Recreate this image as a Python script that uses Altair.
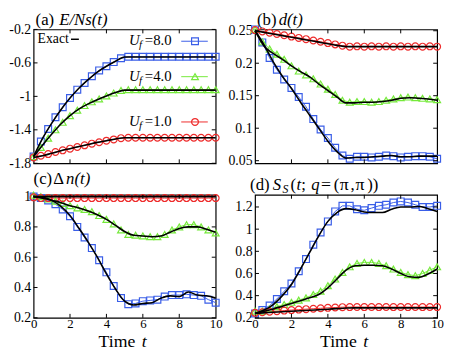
import altair as alt
import pandas as pd

FONT = "Liberation Serif"
SERIES = ["8.0", "4.0", "1.0"]
COLORS = ["#3a5ee8", "#75ea3a", "#ee2b2b"]
SHAPES = ["square", "triangle-up", "circle"]

T_MARK = [0.0, 0.4, 0.8, 1.2, 1.6, 2.0, 2.4, 2.8, 3.2, 3.6, 4.0, 4.4, 4.8,
          5.2, 5.6, 6.0, 6.4, 6.8, 7.2, 7.6, 8.0, 8.4, 8.8, 9.2, 9.6, 10.0]
T_EX = [0.0, 0.5, 1.0, 1.5, 2.0, 2.5, 3.0, 3.5, 4.0, 4.5, 5.0,
        5.5, 6.0, 6.5, 7.0, 7.5, 8.0, 8.5, 9.0, 9.5, 10.0]

# (a) E/Ns(t)
A_U8 = [-1.72, -1.54, -1.39, -1.25, -1.13, -1.02, -0.92, -0.84, -0.76, -0.69, -0.64, -0.59, -0.545,
        -0.527, -0.527, -0.527, -0.527, -0.527, -0.527, -0.527, -0.527, -0.527, -0.527, -0.527, -0.527, -0.527]
A_U4 = [-1.72, -1.61, -1.50, -1.40, -1.31, -1.23, -1.165, -1.11, -1.065, -1.03, -0.995, -0.96, -0.93,
        -0.92, -0.92, -0.92, -0.92, -0.92, -0.92, -0.92, -0.92, -0.92, -0.92, -0.92, -0.92, -0.92]
A_U1 = [-1.73, -1.71, -1.69, -1.665, -1.645, -1.625, -1.605, -1.585, -1.565, -1.548, -1.53, -1.515, -1.50,
        -1.495, -1.495, -1.495, -1.495, -1.495, -1.495, -1.495, -1.495, -1.495, -1.495, -1.495, -1.495, -1.495]
A_E8 = [-1.72, -1.50, -1.32, -1.16, -1.02, -0.90, -0.80, -0.71, -0.64, -0.58, -0.53,
        -0.53, -0.53, -0.53, -0.53, -0.53, -0.53, -0.53, -0.53, -0.53, -0.53]
A_E4 = [-1.72, -1.58, -1.45, -1.33, -1.23, -1.15, -1.09, -1.04, -0.995, -0.955, -0.925,
        -0.925, -0.925, -0.925, -0.925, -0.925, -0.925, -0.925, -0.925, -0.925, -0.925]
A_E1 = [-1.73, -1.71, -1.68, -1.65, -1.625, -1.60, -1.575, -1.55, -1.53, -1.51, -1.495,
        -1.495, -1.495, -1.495, -1.495, -1.495, -1.495, -1.495, -1.495, -1.495, -1.495]

# (b) d(t)
B_U8 = [0.252, 0.232, 0.208, 0.19, 0.175, 0.162, 0.148, 0.133, 0.114, 0.098, 0.085, 0.07, 0.058,
        0.053, 0.056, 0.056, 0.055, 0.056, 0.058, 0.057, 0.055, 0.056, 0.057, 0.057, 0.056, 0.053]
B_U4 = [0.252, 0.233, 0.222, 0.214, 0.206, 0.196, 0.188, 0.182, 0.176, 0.168, 0.160, 0.152, 0.143,
        0.140, 0.141, 0.141, 0.140, 0.141, 0.143, 0.145, 0.147, 0.148, 0.147, 0.146, 0.145, 0.144]
B_U1 = [0.251, 0.249, 0.247, 0.245, 0.243, 0.241, 0.239, 0.237, 0.235, 0.233, 0.231, 0.229, 0.227,
        0.2255, 0.226, 0.2255, 0.226, 0.2255, 0.226, 0.2255, 0.226, 0.2255, 0.226, 0.2255, 0.226, 0.2255]
B_E8 = [0.25, 0.228, 0.202, 0.18, 0.161, 0.14, 0.12, 0.1, 0.08, 0.064, 0.054,
        0.055, 0.055, 0.056, 0.057, 0.058, 0.056, 0.056, 0.057, 0.057, 0.057]
B_E4 = [0.25, 0.226, 0.215, 0.206, 0.196, 0.187, 0.179, 0.168, 0.158, 0.148, 0.139,
        0.139, 0.14, 0.14, 0.141, 0.143, 0.146, 0.147, 0.146, 0.145, 0.143]
B_E1 = [0.25, 0.2475, 0.245, 0.2425, 0.24, 0.2375, 0.235, 0.2325, 0.23, 0.2275, 0.2255,
        0.2255, 0.2255, 0.2255, 0.2255, 0.2255, 0.2255, 0.2255, 0.2255, 0.2255, 0.2255]

# (c) Delta n(t)
C_U8 = [1.0, 0.99, 0.975, 0.95, 0.915, 0.87, 0.8, 0.73, 0.66, 0.58, 0.5, 0.41, 0.33,
        0.29, 0.295, 0.31, 0.315, 0.32, 0.34, 0.35, 0.35, 0.355, 0.35, 0.345, 0.32, 0.30]
C_U4 = [1.01, 1.0, 0.985, 0.97, 0.955, 0.94, 0.925, 0.915, 0.9, 0.875, 0.85, 0.82, 0.78,
        0.75, 0.745, 0.74, 0.735, 0.735, 0.75, 0.78, 0.80, 0.815, 0.815, 0.80, 0.78, 0.76]
C_U1 = [0.995, 0.99, 0.99, 0.99, 0.99, 0.99, 0.99, 0.99, 0.99, 0.99, 0.99, 0.99, 0.99,
        0.99, 0.99, 0.99, 0.99, 0.99, 0.99, 0.99, 0.99, 0.99, 0.99, 0.99, 0.99, 0.99]
C_E8 = [1.0, 0.995, 0.975, 0.935, 0.875, 0.79, 0.7, 0.6, 0.49, 0.39, 0.31,
        0.285, 0.295, 0.3, 0.33, 0.345, 0.34, 0.37, 0.35, 0.345, 0.33]
C_E4 = [1.0, 0.99, 0.975, 0.96, 0.94, 0.925, 0.905, 0.88, 0.85, 0.81, 0.77,
        0.745, 0.74, 0.735, 0.74, 0.765, 0.79, 0.8, 0.8, 0.785, 0.765]
C_E1 = [1.0, 1.0, 1.0, 1.0, 1.0, 1.0, 1.0, 1.0, 1.0, 1.0, 1.0,
        1.0, 1.0, 1.0, 1.0, 1.0, 1.0, 1.0, 1.0, 1.0, 1.0]

# (d) S_S(t; q=(pi,pi))
D_U8 = [0.24, 0.27, 0.31, 0.37, 0.44, 0.51, 0.62, 0.73, 0.86, 0.97, 1.07, 1.16, 1.21,
        1.21, 1.18, 1.17, 1.19, 1.21, 1.22, 1.24, 1.25, 1.24, 1.22, 1.2, 1.2, 1.21]
D_U4 = [0.26, 0.26, 0.28, 0.3, 0.32, 0.34, 0.36, 0.38, 0.41, 0.44, 0.49, 0.55, 0.61,
        0.66, 0.69, 0.70, 0.70, 0.69, 0.67, 0.64, 0.61, 0.59, 0.58, 0.6, 0.63, 0.66]
D_U1 = [0.245, 0.25, 0.255, 0.26, 0.265, 0.27, 0.274, 0.278, 0.282, 0.286, 0.29, 0.293, 0.296,
        0.297, 0.298, 0.297, 0.298, 0.297, 0.298, 0.297, 0.298, 0.297, 0.298, 0.297, 0.298, 0.297]
D_E8 = [0.24, 0.27, 0.32, 0.4, 0.5, 0.64, 0.79, 0.94, 1.07, 1.15, 1.185,
        1.175, 1.155, 1.15, 1.15, 1.18, 1.2, 1.2, 1.205, 1.185, 1.16]
D_E4 = [0.24, 0.26, 0.28, 0.305, 0.33, 0.355, 0.38, 0.41, 0.47, 0.55, 0.63,
        0.67, 0.675, 0.675, 0.67, 0.64, 0.6, 0.57, 0.565, 0.595, 0.64]
D_E1 = [0.24, 0.245, 0.25, 0.255, 0.26, 0.264, 0.268, 0.273, 0.278, 0.283, 0.288,
        0.29, 0.29, 0.29, 0.29, 0.29, 0.29, 0.29, 0.29, 0.29, 0.29]

X_TICKS = [2, 4, 6, 8]
X_LABELS = [0, 2, 4, 6, 8, 10]
A_YT = [-1.8, -1.4, -1.0, -0.6, -0.2]
B_YT = [0.05, 0.1, 0.15, 0.2, 0.25]
C_YT = [0.2, 0.4, 0.6, 0.8, 1.0]
D_YT = [0.2, 0.4, 0.6, 0.8, 1.0, 1.2]

W = 185
H_TOP = 136
H_BOT = 125
ONE = alt.InlineData(values=[{"k": 1}])


def long(t, arrays):
    rows = []
    for s, arr in zip(SERIES, arrays):
        for tt, v in zip(t, arr):
            rows.append({"t": tt, "v": v, "s": s})
    return pd.DataFrame(rows)


def txt(s, x, y, size, italic=False):
    return alt.Chart(ONE).mark_text(
        text=s, font=FONT, fontSize=size, fontStyle="italic" if italic else "normal",
        align="left", baseline="alphabetic", color="black"
    ).encode(x=alt.value(x), y=alt.value(y))


def panel(marks, exact, ydom, yticks, h, bottom, extra):
    xs = alt.Scale(domain=[0, 10], nice=False)
    ys = alt.Scale(domain=ydom, nice=False, zero=False)
    if bottom:
        xax = alt.Axis(values=X_LABELS, ticks=False, domain=False, grid=False,
                       labelFont=FONT, labelFontSize=13, labelPadding=0, labelOverlap=False,
                       labelColor="black", title=None, labelFlush=False, labelBound=False)
    else:
        xax = alt.Axis(values=X_LABELS, ticks=False, domain=False, grid=False,
                       labels=False, title=None)
    yax = alt.Axis(values=yticks, ticks=False, domain=False, grid=False, labelOverlap=False,
                   labelFont=FONT, labelFontSize=14, labelPadding=3, labelColor="black",
                   labelBound=False, labelFlush=False,
                   labelExpr="'' + datum.value", title=None)
    X = alt.X("t:Q", scale=xs, axis=xax)
    Y = alt.Y("v:Q", scale=ys, axis=yax)
    col = alt.Color("s:N", scale=alt.Scale(domain=SERIES, range=COLORS), legend=None)
    shp = alt.Shape("s:N", scale=alt.Scale(domain=SERIES, range=SHAPES), legend=None)
    dm = long(T_MARK, marks)
    de = long(T_EX, exact)
    lines = alt.Chart(dm).mark_line(strokeWidth=1).encode(x=X, y=Y, color=col, detail="s:N")
    pts = alt.Chart(dm).mark_point(filled=False, strokeWidth=1.2, size=48, opacity=1).encode(
        x=X, y=Y, color=col, shape=shp)
    ex = alt.Chart(de).mark_line(color="black", strokeWidth=1.6, interpolate="monotone").encode(
        x=X, y=Y, detail="s:N")
    xt = pd.DataFrame({"t": X_TICKS})
    yt = pd.DataFrame({"v": yticks})
    tb = alt.Chart(xt).mark_rule(color="black").encode(
        x=X, y=alt.value(h), y2=alt.value(h - 4))
    tt = alt.Chart(xt).mark_rule(color="black").encode(
        x=X, y=alt.value(0), y2=alt.value(4))
    tl = alt.Chart(yt).mark_rule(color="black").encode(
        y=Y, x=alt.value(0), x2=alt.value(4))
    tr = alt.Chart(yt).mark_rule(color="black").encode(
        y=Y, x=alt.value(W - 4), x2=alt.value(W))
    layers = [lines, pts, ex, tb, tt, tl, tr] + extra
    return alt.layer(*layers).properties(width=W, height=h)


def legend_entry(label, color, shape, ybase):
    return [
        txt("U", W - 88, ybase, 15, True),
        txt("f", W - 78, ybase + 3, 11, True),
        txt("=" + label, W - 72, ybase, 15),
        alt.Chart(ONE).mark_rule(color=color, strokeWidth=1).encode(
            x=alt.value(W - 35), x2=alt.value(W - 8), y=alt.value(ybase - 4)),
        alt.Chart(ONE).mark_point(shape=shape, filled=False, color=color, size=48,
                                  strokeWidth=1.2, opacity=1).encode(
            x=alt.value(W - 21), y=alt.value(ybase - 4)),
    ]


time_title = [txt("Time", 66, H_BOT + 30, 18), txt("t", 110, H_BOT + 30, 18, True)]

extra_a = [
    txt("(a)", 2, -4, 17), txt("E/Ns(t)", 26, -4, 17, True),
    txt("Exact", 4, 14, 14),
    alt.Chart(ONE).mark_rule(color="black", strokeWidth=1.5).encode(
        x=alt.value(38), x2=alt.value(46), y=alt.value(10)),
] + legend_entry("8.0", COLORS[0], SHAPES[0], 16) \
  + legend_entry("4.0", COLORS[1], SHAPES[1], 52) \
  + legend_entry("1.0", COLORS[2], SHAPES[2], 98)

extra_b = [txt("(b)", 2, -4, 17), txt("d(t)", 24, -4, 17, True)]
extra_c = [txt("(c)", 0, -11, 17), txt("Δ", 20, -11, 17), txt("n(t)", 33, -11, 17, True)] + time_title
extra_d = [
    txt("(d)", -5, -5, 17), txt("S", 18, -5, 17, True), txt("S", 28, -2, 12, True),
    txt("(", 36, -5, 17), txt("t", 42, -5, 17, True), txt(";", 47, -5, 17),
    txt("q", 57, -5, 17, True), txt("=", 67, -5, 18), txt("(", 80, -5, 17),
    txt("π", 86, -5, 18), txt(",", 97, -5, 17), txt("π", 102, -5, 18),
    txt("))", 114, -5, 17),
] + time_title

pa = panel([A_U8, A_U4, A_U1], [A_E8, A_E4, A_E1], [-1.8, -0.2], A_YT, H_TOP, False, extra_a)
pb = panel([B_U8, B_U4, B_U1], [B_E8, B_E4, B_E1], [0.046, 0.252], B_YT, H_TOP, False, extra_b)
pc = panel([C_U8, C_U4, C_U1], [C_E8, C_E4, C_E1], [0.2, 1.012], C_YT, H_BOT, True, extra_c)
pd_ = panel([D_U8, D_U4, D_U1], [D_E8, D_E4, D_E1], [0.2, 1.31], D_YT, H_BOT, True, extra_d)

chart = alt.concat(pa, pb, pc, pd_, columns=2, spacing={"row": 32, "column": 40},
                   bounds="flush").properties(
    padding=0, background="white"
).configure_view(stroke="black", strokeWidth=1.2).configure_axis(
    labelOverlap=False, labelFont=FONT)

chart.save("out.html", embed_options={"renderer": "svg", "actions": False})
